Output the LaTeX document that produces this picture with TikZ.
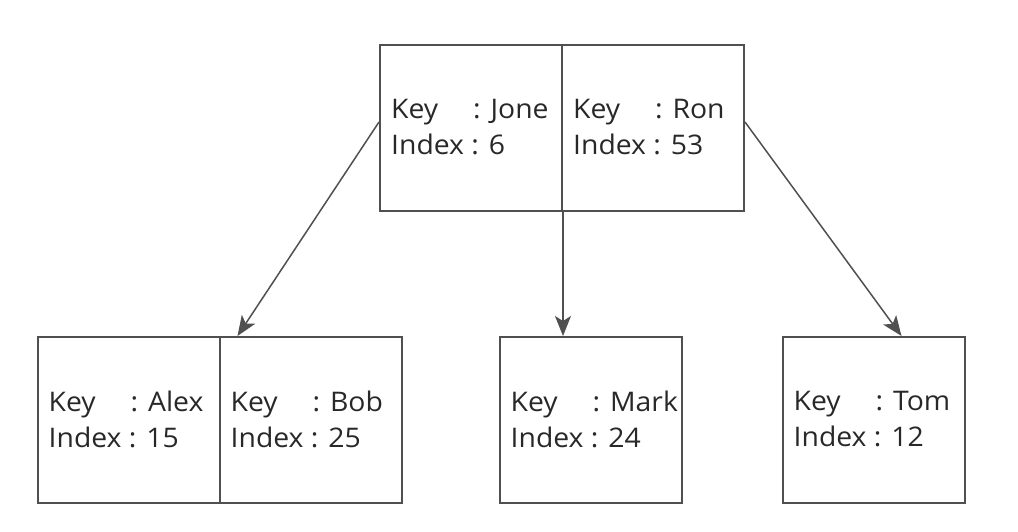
\documentclass[tikz,border=0pt]{standalone}
\usepackage{fontspec}
\setmainfont{Open Sans}[FakeStretch=1.05]
\usetikzlibrary{arrows.meta}
\definecolor{linec}{RGB}{80,80,80}
\definecolor{textc}{RGB}{40,40,40}
\newcommand\kvtext[2]{\makebox[82pt][l]{Key}: #1\\Index : #2}
\tikzset{
  cell/.style={draw=linec, line width=2pt, minimum width=182pt, minimum height=166pt, inner sep=0pt},
  txt/.style={anchor=west, align=left, font=\fontsize{27}{36}\selectfont, text=textc, inner sep=0pt},
  arr/.style={draw=linec, line width=1.5pt, -{Stealth[length=20pt,width=16pt,inset=5pt]}}
}
\begin{document}
\begin{tikzpicture}[x=1pt,y=1pt]
\useasboundingbox (0,0) rectangle (1018,532);
\node[cell] (t1) at (471,404) {};
\node[cell] (t2) at (653,404) {};
\node[cell] (b1) at (128.5,112) {};
\node[cell] (b2) at (310.5,112) {};
\node[cell] (b3) at (590.5,112) {};
\node[cell] (b4) at (873.5,112) {};
\node[txt] (t1t) at ([xshift=12pt,yshift=1pt]t1.west) {\kvtext{Jone}{6}};
\node[txt] (t2t) at ([xshift=12pt,yshift=1pt]t2.west) {\kvtext{Ron}{53}};
\node[txt] (b1t) at ([xshift=12pt,yshift=1pt]b1.west) {\kvtext{Alex}{15}};
\node[txt] (b2t) at ([xshift=12pt,yshift=1pt]b2.west) {\kvtext{Bob}{25}};
\node[txt] (b3t) at ([xshift=12pt,yshift=1pt]b3.west) {\kvtext{Mark}{24}};
\node[txt] (b4t) at ([xshift=12pt,yshift=1pt]b4.west) {\kvtext{Tom}{12}};
\draw[arr] ([yshift=6pt]t1.west) -- ([xshift=19pt]b2.north west);
\draw[arr] (t1.south east) -- (b3.north -| t1.south east);
\draw[arr] ([yshift=6pt]t2.east) -- ([xshift=120pt]b4.north west);
\end{tikzpicture}
\end{document}
